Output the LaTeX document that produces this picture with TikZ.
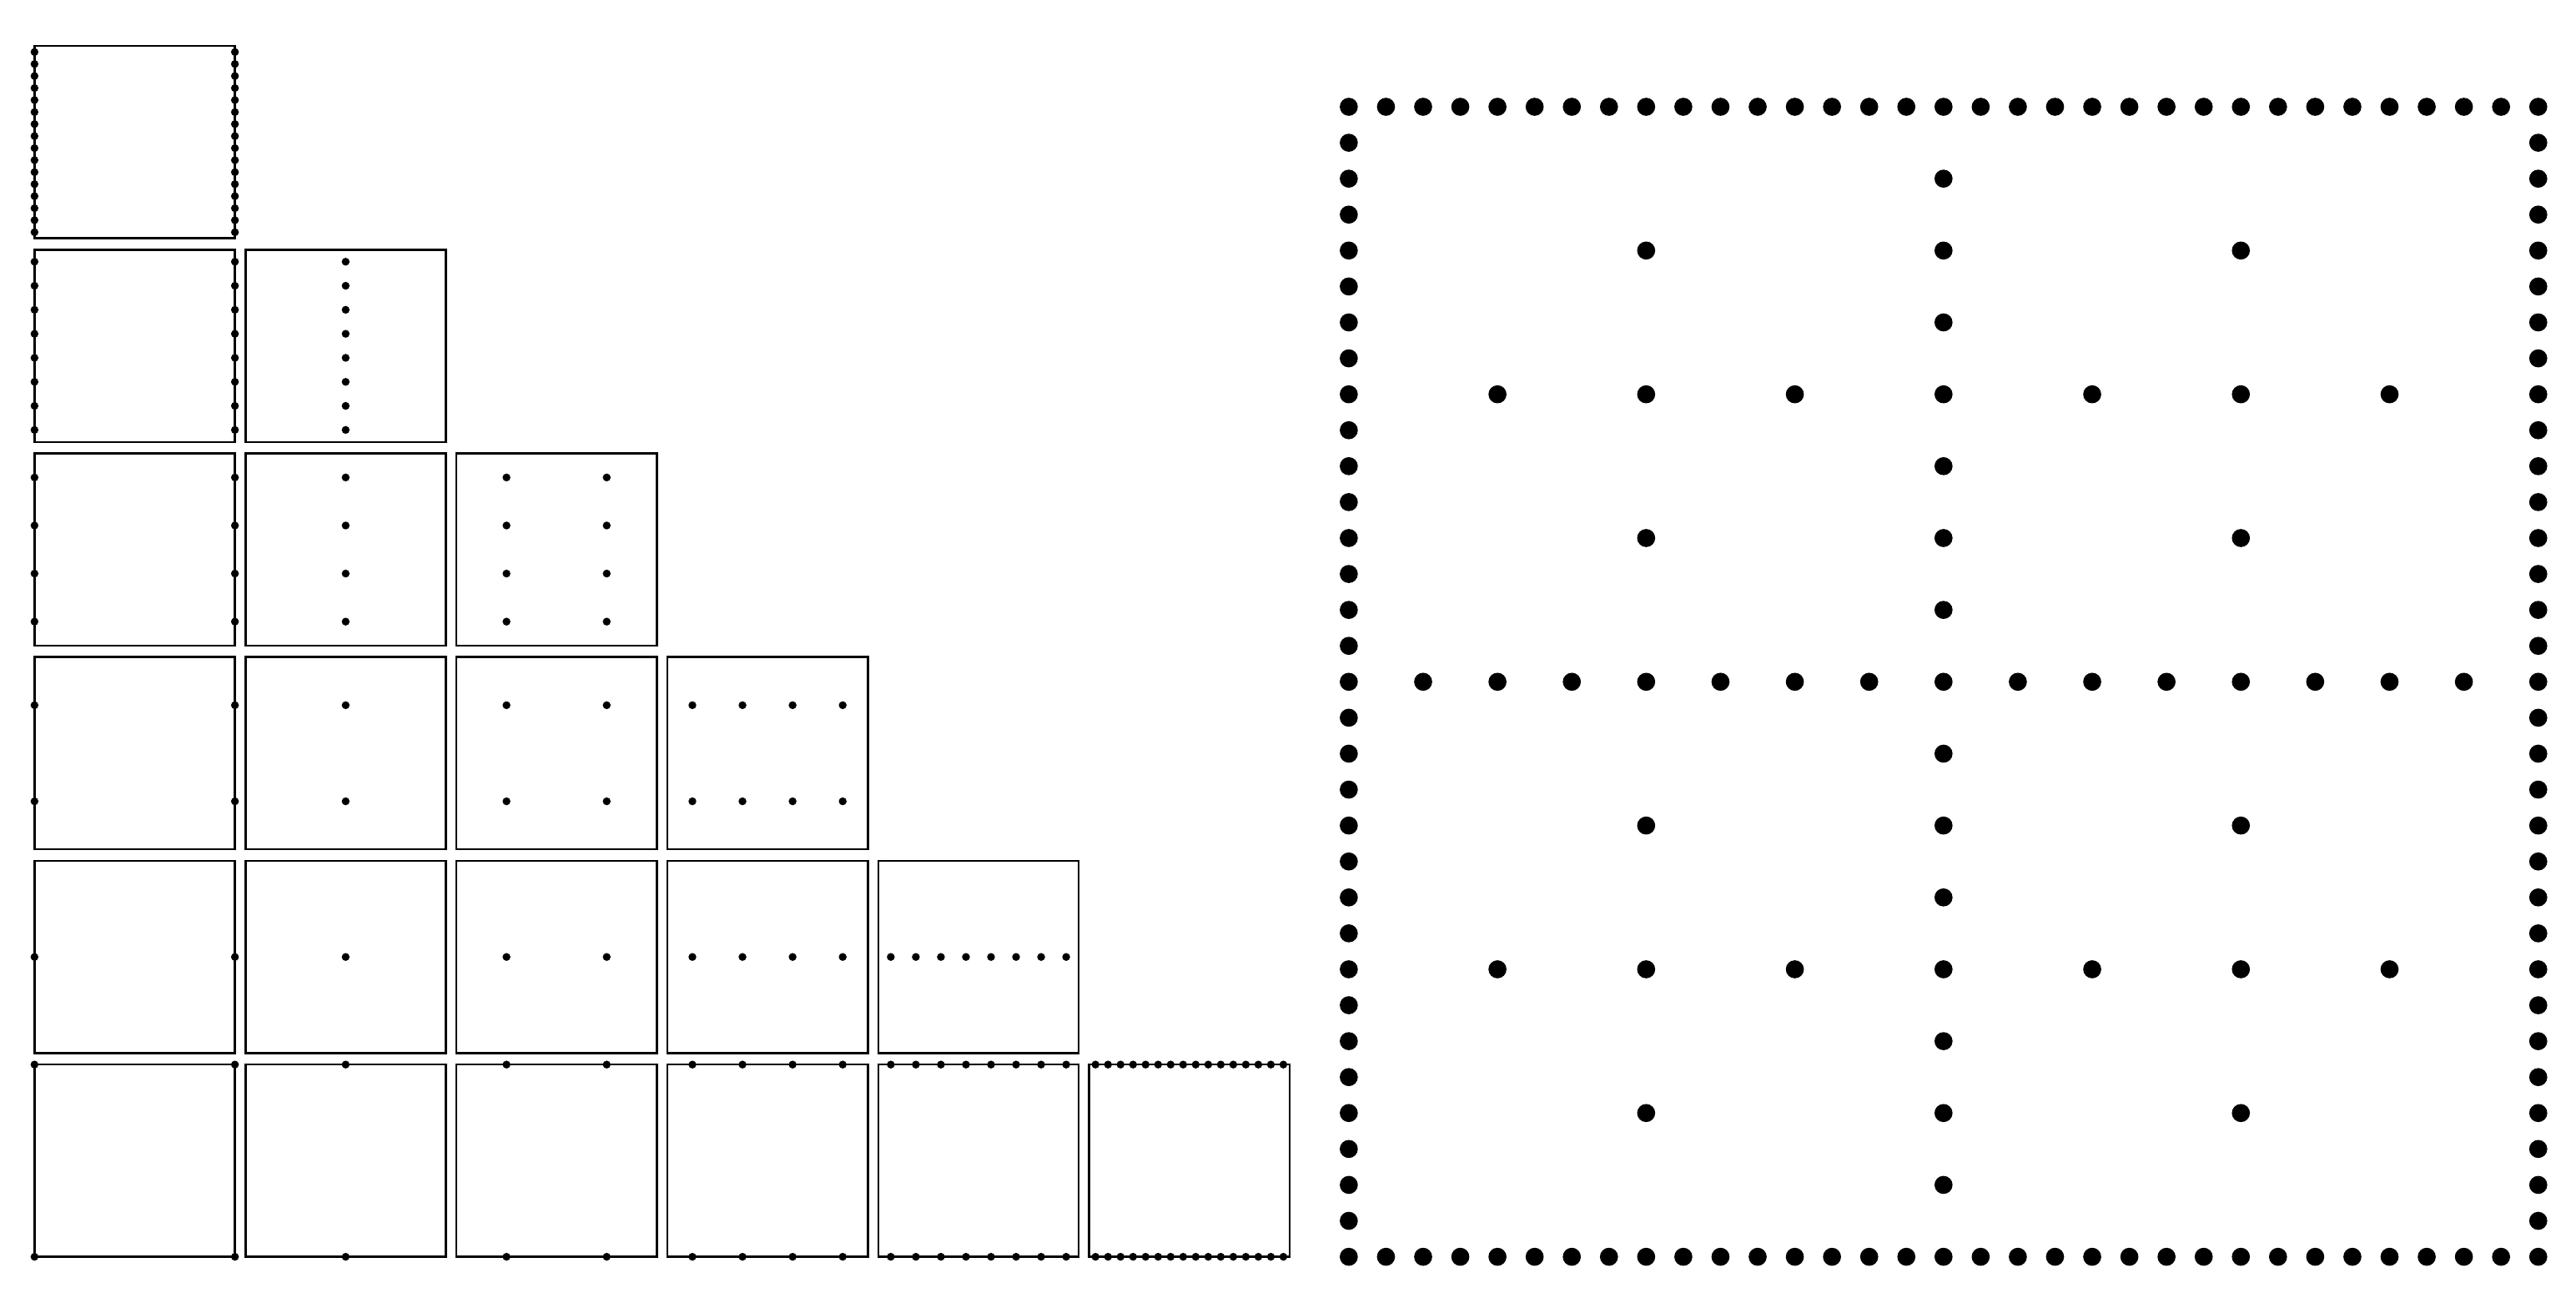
\documentclass[tikz,border=0pt]{standalone}
\begin{document}
\begin{tikzpicture}[x=1pt,y=-1pt]
\useasboundingbox[fill=white] (0,0) rectangle (1568,796);
% left: hierarchical subspaces
\foreach \r in {0,...,5}{
 \foreach \c in {0,...,\r}{
  \pgfmathsetmacro\ox{21+128.4*\c}
  \pgfmathsetmacro\oy{28+124*\r}
  \draw[line width=1.3pt] (\ox,\oy) rectangle ++(122,117);
  \pgfmathtruncatemacro\ly{5-\r}
  \pgfmathtruncatemacro\nx{\c==0 ? 2 : 2^(\c-1)}
  \pgfmathtruncatemacro\ny{\ly==0 ? 2 : 2^(\ly-1)}
  \foreach \i in {1,...,\nx}{
   \foreach \j in {1,...,\ny}{
    \pgfmathsetmacro\px{\c==0 ? (\i-1) : (2*\i-1)/2^\c}
    \pgfmathsetmacro\py{\ly==0 ? (\j-1) : (2*\j-1)/2^\ly}
    \fill (\ox+122*\px, \oy+117*\py) circle[radius=2.4pt];
   }}
 }}
% right: sparse grid
\foreach \a in {0,...,5}{
 \pgfmathtruncatemacro\bmax{5-\a}
 \foreach \b in {0,...,\bmax}{
  \pgfmathtruncatemacro\nx{\a==0 ? 2 : 2^(\a-1)}
  \pgfmathtruncatemacro\ny{\b==0 ? 2 : 2^(\b-1)}
  \foreach \i in {1,...,\nx}{
   \foreach \j in {1,...,\ny}{
    \pgfmathsetmacro\px{\a==0 ? (\i-1) : (2*\i-1)/2^\a}
    \pgfmathsetmacro\py{\b==0 ? (\j-1) : (2*\j-1)/2^\b}
    \fill (821+724*\px, 65+700*\py) circle[radius=5.5pt];
   }}
 }}
\end{tikzpicture}
\end{document}
